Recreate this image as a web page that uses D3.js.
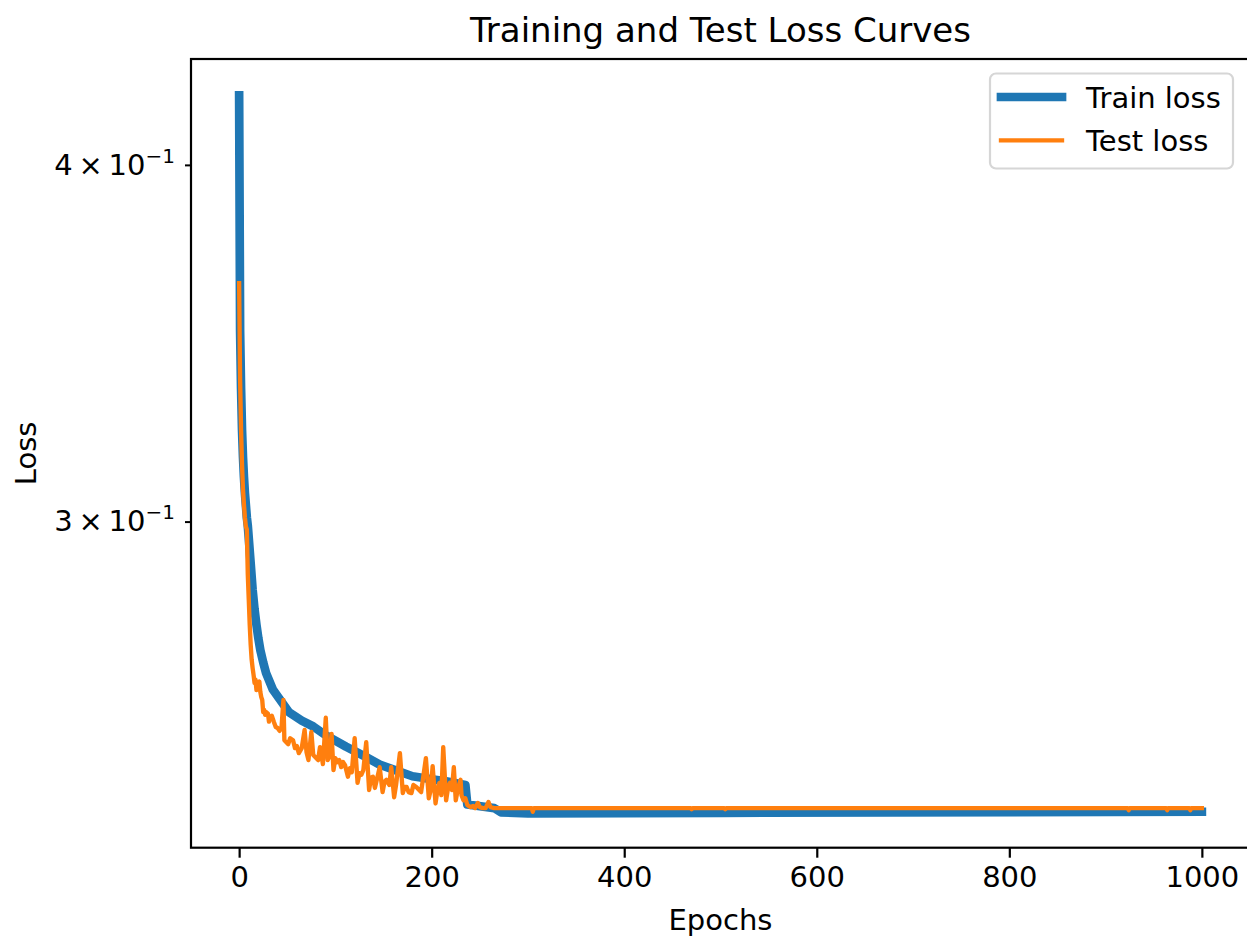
<!DOCTYPE html>
<html>
<head>
<meta charset="utf-8">
<script src="https://cdn.jsdelivr.net/npm/d3@7"></script>
<style>
  body { margin: 0; background: #fff; }
  svg { display: block; font-family: "DejaVu Sans", sans-serif; }
</style>
</head>
<body>
<svg></svg>
<script>
let width = 1247;
let height = 942;

// Data
let trainEpochs = [0, 1, 2, 3, 4, 5, 6, 7, 8, 9, 10, 12, 14, 16, 18, 20, 22, 25, 28, 35, 42, 52, 65, 77, 90, 111, 130, 146, 165, 180, 200, 215, 235, 237, 265, 272, 300, 500, 1000];
let trainLoss = [0.4231, 0.350, 0.334, 0.323, 0.316, 0.311, 0.307, 0.304, 0.301, 0.299, 0.296, 0.290, 0.284, 0.2795, 0.276, 0.273, 0.2705, 0.2678, 0.2655, 0.2620, 0.2600, 0.2572, 0.2555, 0.2543, 0.2525, 0.2502, 0.2483, 0.2466, 0.2453, 0.2443, 0.2437, 0.2433, 0.2426, 0.2388, 0.2381, 0.2373, 0.2371, 0.2372, 0.2374];

let testEpochs = [
  0, 1, 2, 3, 4, 5, 6, 7, 8, 9,
  10, 11, 12, 13, 14, 15, 16, 17, 18, 19,
  20, 21, 22, 23, 24, 25, 26, 27, 28, 30,
  31, 32, 34, 36, 38, 40, 42, 44, 46, 47,
  49, 51, 53, 56, 58, 60, 62, 65, 68, 70,
  72, 73, 75, 77, 79, 82, 84, 86, 87, 90,
  92, 94, 96, 98, 100, 102, 104, 106, 108, 110,
  113, 115, 117, 120, 123, 125, 127, 129, 132, 135,
  137, 139, 141, 143, 146, 149, 151, 153, 156, 158,
  161, 163, 167, 170, 172, 174, 176, 179, 181, 184,
  187, 189, 194, 197, 199, 201, 204, 206, 208, 210,
  212, 215, 217, 219, 221, 223, 225, 227, 229, 230,
  231, 233, 235, 237, 240, 243, 245, 248, 250, 253,
  256, 259, 261, 265, 304, 305, 306, 469, 470, 471,
  504, 505, 506, 923, 924, 925, 963, 964, 965, 987,
  988, 989, 1000];
let testLoss = [
  0.3636, 0.3363, 0.3231, 0.3141, 0.3078, 0.3041, 0.3010, 0.2988, 0.2981, 0.2874,
  0.2817, 0.2760, 0.2716, 0.2684, 0.2666, 0.2651, 0.2634, 0.2641, 0.2619, 0.2628,
  0.2630, 0.2637, 0.2615, 0.2604, 0.2598, 0.2573, 0.2577, 0.2567, 0.2573, 0.2569,
  0.2553, 0.2561, 0.2565, 0.2553, 0.2542, 0.2540, 0.2534, 0.2540, 0.2598, 0.2515,
  0.2511, 0.2507, 0.2519, 0.2515, 0.2499, 0.2503, 0.2489, 0.2499, 0.2536, 0.2491,
  0.2475, 0.2495, 0.2532, 0.2485, 0.2481, 0.2475, 0.2501, 0.2479, 0.2467, 0.2561,
  0.2475, 0.2483, 0.2528, 0.2455, 0.2479, 0.2471, 0.2475, 0.2461, 0.2471, 0.2465,
  0.2442, 0.2459, 0.2451, 0.2519, 0.2430, 0.2449, 0.2446, 0.2455, 0.2511, 0.2416,
  0.2440, 0.2442, 0.2420, 0.2436, 0.2461, 0.2412, 0.2432, 0.2436, 0.2426, 0.2461,
  0.2402, 0.2426, 0.2489, 0.2410, 0.2422, 0.2422, 0.2412, 0.2410, 0.2426, 0.2422,
  0.2416, 0.2412, 0.2479, 0.2400, 0.2416, 0.2463, 0.2390, 0.2416, 0.2430, 0.2406,
  0.2501, 0.2396, 0.2420, 0.2430, 0.2416, 0.2461, 0.2396, 0.2416, 0.2430, 0.2436,
  0.2406, 0.2396, 0.2400, 0.2387, 0.2383, 0.2385, 0.2381, 0.2391, 0.2383, 0.2381,
  0.2381, 0.2393, 0.2383, 0.2381, 0.2381, 0.2374, 0.2381, 0.2381, 0.2379, 0.2381,
  0.2381, 0.2379, 0.2381, 0.2381, 0.2377, 0.2381, 0.2381, 0.2377, 0.2381, 0.2381,
  0.2377, 0.2381, 0.2381];

let xTicks = [0, 200, 400, 600, 800, 1000];
let yTicks = [0.3, 0.4];
let yTickMant = ['3', '4'];
let seriesNames = ['Train loss', 'Test loss'];
let colors = ['#1f77b4', '#ff7f0e'];

let margin = {left: 191, top: 59, right: 1250, bottom: 847.7};

let svg = d3.select('svg')
            .attr('width', width)
            .attr('height', height);

let x = d3.scaleLinear()
          .domain([-50, 1050])
          .range([margin.left, margin.right]);

let y = d3.scaleLog()
          .domain([0.23062, 0.43566])
          .range([margin.bottom, margin.top]);

svg.append('defs').append('clipPath')
   .attr('id', 'plot')
   .append('rect')
   .attr('x', margin.left)
   .attr('y', margin.top)
   .attr('width', margin.right - margin.left)
   .attr('height', margin.bottom - margin.top);

let line = d3.line()
             .x(d => x(d[0]))
             .y(d => y(d[1]));

let trainData = trainEpochs.map((e, i) => [e, trainLoss[i]]);
let testData = testEpochs.map((e, i) => [e, testLoss[i]]);

let plot = svg.append('g').attr('clip-path', 'url(#plot)');

plot.append('path')
    .datum(trainData)
    .attr('d', line)
    .attr('fill', 'none')
    .attr('stroke', colors[0])
    .attr('stroke-width', 8.7)
    .attr('stroke-linejoin', 'round')
    .attr('stroke-linecap', 'square');

plot.append('path')
    .datum(testData)
    .attr('d', line)
    .attr('fill', 'none')
    .attr('stroke', colors[1])
    .attr('stroke-width', 4.35)
    .attr('stroke-linejoin', 'round')
    .attr('stroke-linecap', 'square');

// x axis
let xAxis = svg.append('g')
   .attr('transform', 'translate(0,' + margin.bottom + ')')
   .call(d3.axisBottom(x).tickValues(xTicks).tickSize(10).tickPadding(9).tickFormat(d3.format('d')));
xAxis.select('.domain').remove();
xAxis.selectAll('.tick line').attr('stroke', '#000').attr('stroke-width', 2.2);
xAxis.selectAll('.tick text')
     .attr('font-size', 29)
     .attr('font-family', '"DejaVu Sans"')
     .attr('fill', '#000');

// y axis (minor ticks on log scale)
let yAxis = svg.append('g')
   .attr('transform', 'translate(' + margin.left + ',0)')
   .call(d3.axisLeft(y).tickValues(yTicks).tickSize(6).tickPadding(10));
yAxis.select('.domain').remove();
yAxis.selectAll('.tick line').attr('stroke', '#000').attr('stroke-width', 2);
yAxis.selectAll('.tick text')
     .attr('font-size', 29)
     .attr('font-family', '"DejaVu Sans"')
     .attr('fill', '#000')
     .text(null)
     .each(function(d, i) {
       let t = d3.select(this);
       t.append('tspan').text(yTickMant[i] + '\u2009\u00d7\u200910');
       t.append('tspan').attr('font-size', 20).attr('dy', -12).text('\u22121');
     });

// spines
svg.append('rect')
   .attr('x', margin.left)
   .attr('y', margin.top)
   .attr('width', margin.right - margin.left)
   .attr('height', margin.bottom - margin.top)
   .attr('fill', 'none')
   .attr('stroke', '#000')
   .attr('stroke-width', 2.2);

// labels
svg.append('text')
   .attr('x', (margin.left + margin.right) / 2)
   .attr('y', 42)
   .attr('text-anchor', 'middle')
   .attr('font-size', 34)
   .text('Training and Test Loss Curves');

svg.append('text')
   .attr('x', (margin.left + margin.right) / 2)
   .attr('y', 930)
   .attr('text-anchor', 'middle')
   .attr('font-size', 29)
   .text('Epochs');

svg.append('text')
   .attr('transform', 'translate(36,' + (margin.top + margin.bottom) / 2 + ') rotate(-90)')
   .attr('text-anchor', 'middle')
   .attr('font-size', 29)
   .text('Loss');

// legend
let legend = svg.append('g');
legend.append('rect')
      .attr('x', 990)
      .attr('y', 73.5)
      .attr('width', 243)
      .attr('height', 95)
      .attr('rx', 6)
      .attr('fill', '#fff')
      .attr('fill-opacity', 0.8)
      .attr('stroke', '#d6d6d6')
      .attr('stroke-width', 2.2);

let legendWidths = [8.7, 4.35];
seriesNames.forEach(function(name, i) {
  let ly = 97 + i * 43.3;
  legend.append('line')
        .attr('x1', 1001).attr('x2', 1062)
        .attr('y1', ly).attr('y2', ly)
        .attr('stroke', colors[i])
        .attr('stroke-width', legendWidths[i])
        .attr('stroke-linecap', 'square');
  legend.append('text')
        .attr('x', 1086)
        .attr('y', ly + 10.5)
        .attr('font-size', 29)
        .text(name);
});
</script>
</body>
</html>
